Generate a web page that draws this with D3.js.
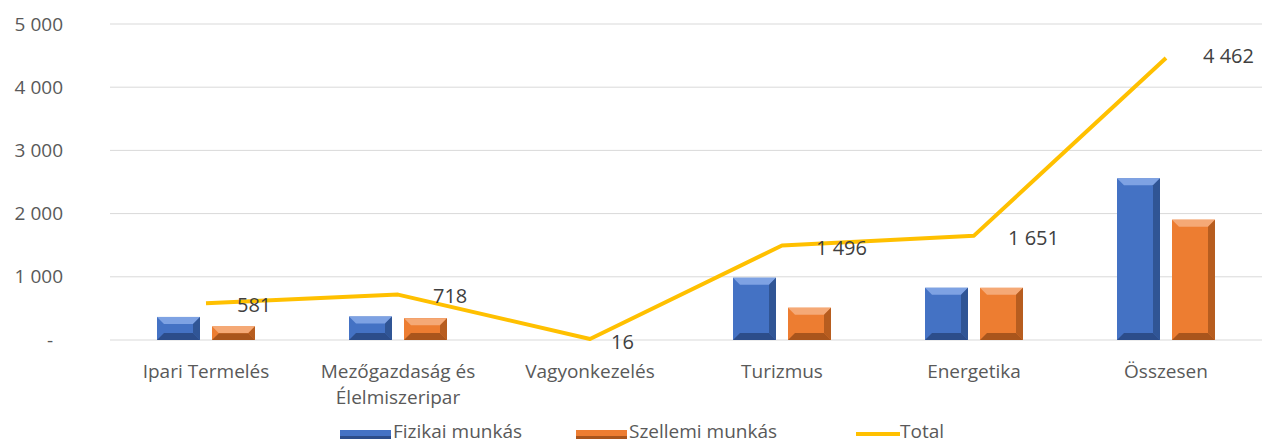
<!DOCTYPE html>
<html>
<head>
<meta charset="utf-8">
<script src="https://cdn.jsdelivr.net/npm/d3@7"></script>
<style>
  body { margin: 0; background: #fff; }
  svg text { font-family: "Open Sans", "Noto Sans", sans-serif; }
</style>
</head>
<body>
<div id="chart"></div>
<script>
const categories = [["Ipari Termelés"], ["Mezőgazdaság és", "Élelmiszeripar"], ["Vagyonkezelés"], ["Turizmus"], ["Energetika"], ["Összesen"]];
const fizikai = [365, 372, 10, 985, 826, 2558];
const szellemi = [216, 346, 6, 511, 825, 1904];
const total = [581, 718, 16, 1496, 1651, 4462];
const yTicks = [0, 1000, 2000, 3000, 4000, 5000];

const W = 1263, H = 444;
const margin = {top: 24, right: 1, bottom: 104, left: 110};
const innerW = W - margin.left - margin.right;
const innerH = H - margin.top - margin.bottom;

const svg = d3.select("#chart").append("svg")
    .attr("width", W)
    .attr("height", H);

const g = svg.append("g")
    .attr("transform", "translate(" + margin.left + "," + margin.top + ")");

const x = d3.scaleBand().domain(d3.range(categories.length)).range([0, innerW]);
const y = d3.scaleLinear().domain([0, 5000]).range([innerH, 0]);

const fmt = v => v === 0 ? "-" : d3.format(",")(v).replace(/,/g, " ");

// grid lines
g.selectAll(".grid").data(yTicks).enter().append("line")
    .attr("x1", 0).attr("x2", innerW)
    .attr("y1", d => y(d)).attr("y2", d => y(d))
    .attr("stroke", "#d9d9d9").attr("stroke-width", 1);

// y labels
g.selectAll(".ylab").data(yTicks).enter().append("text")
    .attr("x", d => d === 0 ? -57 : -47)
    .attr("y", d => y(d))
    .attr("dy", "0.35em")
    .attr("text-anchor", "end")
    .attr("fill", "#595959")
    .style("font-size", "19px")
    .text(fmt);

// bars with bevel look
const barW = 43, gap = 12;
function bevelBar(sel, xPos, val, base, light, dark) {
    const h = innerH - y(val);
    if (h < 1) return;
    const top = y(val), bottom = innerH, l = xPos, r = xPos + barW;
    const b = Math.min(7, h / 2);
    sel.append("rect").attr("x", l).attr("y", top).attr("width", barW).attr("height", h).attr("fill", base);
    // top bevel
    sel.append("polygon").attr("points", [[l, top], [r, top], [r - b, top + b], [l + b, top + b]].join(" ")).attr("fill", light);
    // right bevel
    sel.append("polygon").attr("points", [[r, top], [r - b, top + b], [r - b, bottom - b], [r, bottom]].join(" ")).attr("fill", dark).attr("opacity", 0.8);
    // bottom bevel
    sel.append("polygon").attr("points", [[l, bottom], [l + b, bottom - b], [r - b, bottom - b], [r, bottom]].join(" ")).attr("fill", dark);
}

const bars = g.append("g");
categories.forEach((c, i) => {
    const cx = x(i) + x.bandwidth() / 2;
    bevelBar(bars, cx - gap / 2 - barW, fizikai[i], "#4472C4", "#7ea2e3", "#2c4d8a");
    bevelBar(bars, cx + gap / 2, szellemi[i], "#ED7D31", "#f5a976", "#a9551c");
});

// total line
const line = d3.line()
    .x((d, i) => x(i) + x.bandwidth() / 2)
    .y(d => y(d));
g.append("path").datum(total)
    .attr("d", line)
    .attr("fill", "none")
    .attr("stroke", "#FFC000")
    .attr("stroke-width", 4)
    .attr("stroke-linejoin", "round");

// data labels
const labelOff = [[31, 2], [35, 1], [21, 3], [34, 3], [34, 2], [37, -2]];
g.selectAll(".dlab").data(total).enter().append("text")
    .attr("x", (d, i) => x(i) + x.bandwidth() / 2 + labelOff[i][0])
    .attr("y", (d, i) => y(d) + labelOff[i][1])
    .attr("dy", "0.35em")
    .attr("fill", "#404040")
    .style("font-size", "20px")
    .text(fmt);

// x labels
categories.forEach((c, i) => {
    const t = g.append("text")
        .attr("x", x(i) + x.bandwidth() / 2)
        .attr("y", innerH + 38)
        .attr("text-anchor", "middle")
        .attr("fill", "#595959")
        .style("font-size", "19px");
    c.forEach((s, j) => t.append("tspan")
        .attr("x", x(i) + x.bandwidth() / 2)
        .attr("dy", j === 0 ? 0 : 26)
        .text(s));
});

// legend
const legend = svg.append("g").attr("transform", "translate(0," + 438 + ")");
const legendItems = [
    {name: "Fizikai munkás", color: "#4472C4", dark: "#2c4d8a", x: 340, type: "bar"},
    {name: "Szellemi munkás", color: "#ED7D31", dark: "#a9551c", x: 576, type: "bar"},
    {name: "Total", color: "#FFC000", x: 856, type: "line"}
];
legendItems.forEach(d => {
    if (d.type === "bar") {
        legend.append("rect").attr("x", d.x).attr("y", -8).attr("width", 51).attr("height", 9).attr("fill", d.color);
        legend.append("rect").attr("x", d.x).attr("y", -2).attr("width", 51).attr("height", 3).attr("fill", d.dark);
    } else {
        legend.append("line").attr("x1", d.x).attr("x2", d.x + 44).attr("y1", -4).attr("y2", -4)
            .attr("stroke", d.color).attr("stroke-width", 4);
    }
    legend.append("text")
        .attr("x", d.x + (d.type === "bar" ? 53 : 44))
        .attr("y", 0)
        .attr("fill", "#595959")
        .style("font-size", "19px")
        .text(d.name);
});
</script>
</body>
</html>
